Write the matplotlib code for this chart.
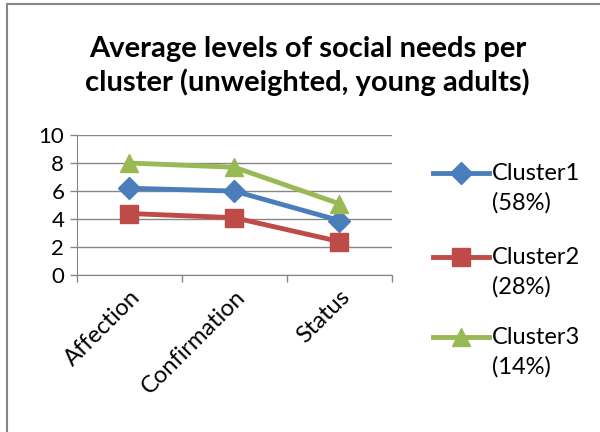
import matplotlib.pyplot as plt
from matplotlib.lines import Line2D

plt.rcParams['font.family'] = ['Lato', 'DejaVu Sans']

# Social needs per cluster
categories = ['Affection', 'Confirmation', 'Status']
cluster1 = [6.2, 6.0, 3.9]
cluster2 = [4.4, 4.1, 2.4]
cluster3 = [8.0, 7.7, 5.1]
series_names = ['Cluster1', 'Cluster2', 'Cluster3']
series_shares = ['(58%)', '(28%)', '(14%)']

colors = ['#4A7EBB', '#BE4B48', '#98B954']
markers = ['D', 's', '^']
marker_sizes = [11, 13, 13]

fig = plt.figure(figsize=(6, 4.32), dpi=100)
ax = fig.add_axes([0.128, 0.363, 0.525, 0.3245])

x = [i + 0.5 for i in range(len(categories))]
for vals, c, m, ms in zip([cluster1, cluster2, cluster3], colors, markers, marker_sizes):
    ax.plot(x, vals, color=c, lw=3.5, marker=m, ms=ms, mec=c, mfc=c, zorder=3)

ax.set_xlim(0, 3)
ax.set_ylim(0, 10)
ax.set_yticks(range(0, 11, 2))
ax.set_xticks([0, 1, 2, 3])
ax.set_xticklabels([])
ax.set_xticks(x, minor=True)
ax.set_xticklabels(categories, minor=True, rotation=45, ha='right', va='top',
                   rotation_mode='anchor', fontsize=17)
ax.tick_params(axis='x', which='minor', length=0, pad=8)
ax.tick_params(axis='x', which='major', length=5, color='#868686', width=1)
ax.tick_params(axis='y', length=5, color='#868686', width=1, labelsize=16, pad=4)
ax.grid(axis='y', color='#868686', lw=1)
ax.set_axisbelow(True)
for side in ['top', 'right']:
    ax.spines[side].set_visible(False)
for side in ['left', 'bottom']:
    ax.spines[side].set_color('#868686')

fig.text(0.513, 1 - 66 / 432, 'Average levels of social needs per\ncluster (unweighted, young adults)',
         ha='center', va='center', fontsize=21, fontweight='bold', linespacing=1.3)

# legend drawn by hand so the marker lines up with the first text row
rows_y = [1 - 173 / 432, 1 - 257 / 432, 1 - 337 / 432]
for name, share, c, m, ms, yy in zip(series_names, series_shares, colors, markers, marker_sizes, rows_y):
    fig.add_artist(Line2D([433 / 600, 489 / 600], [yy, yy], color=c, lw=3.5,
                          transform=fig.transFigure))
    fig.add_artist(Line2D([461 / 600], [yy], color=c, marker=m, ms=ms, mec=c, mfc=c,
                          transform=fig.transFigure))
    fig.text(492 / 600, yy, name, ha='left', va='center', fontsize=17)
    fig.text(492 / 600, yy - 30 / 432, share, ha='left', va='center', fontsize=17)

# chart frame (top and left edges visible)
fig.add_artist(Line2D([7 / 600, 7 / 600], [0, 1 - 4 / 432], color='#868686', lw=1.5,
                      transform=fig.transFigure))
fig.add_artist(Line2D([7 / 600, 1], [1 - 4 / 432, 1 - 4 / 432], color='#868686', lw=1.5,
                      transform=fig.transFigure))

fig.savefig('out.png', dpi=100)
